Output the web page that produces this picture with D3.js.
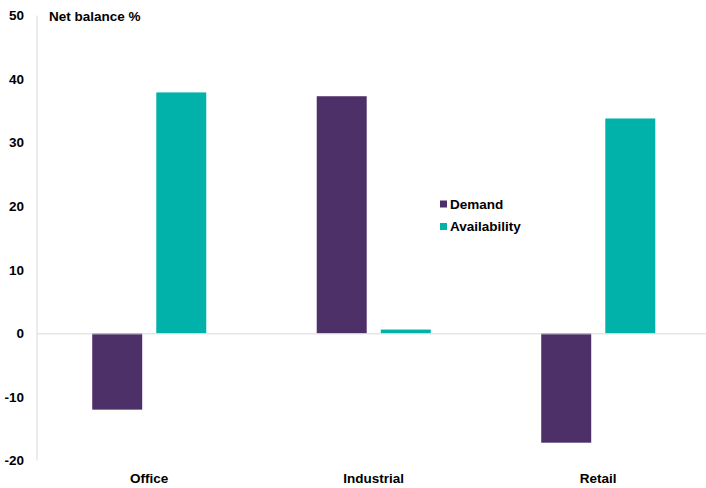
<!DOCTYPE html>
<html>
<head>
<meta charset="utf-8">
<script src="https://cdn.jsdelivr.net/npm/d3@7"></script>
<style>
  body { margin: 0; background: #fff; }
  text { font-family: "Liberation Sans", Arial, sans-serif; font-weight: bold; fill: #000; }
</style>
</head>
<body>
<div id="chart"></div>
<script>
// data
var categories = ["Office", "Industrial", "Retail"];
var seriesNames = ["Demand", "Availability"];
var demand = [-12, 37.3, -17.2];
var availability = [37.9, 0.6, 33.8];
var yTicks = [-20, -10, 0, 10, 20, 30, 40, 50];
var colors = {Demand: "#4d3068", Availability: "#00b2a9"};

// setup dimensions
var width = 706, height = 488;

var svg = d3.select("#chart").append("svg")
  .attr("width", width)
  .attr("height", height);

// scales
var y = d3.scaleLinear()
  .domain([-20, 50])
  .range([460.5, 15.5]);

var x0 = d3.scaleBand()
  .domain(categories)
  .range([37, 710.5])
  .paddingInner(0.492)
  .paddingOuter(0.246);

var x1 = d3.scaleBand()
  .domain(seriesNames)
  .range([0, x0.bandwidth()])
  .paddingInner(0.22);

// y axis line
svg.append("line")
  .attr("x1", 37).attr("x2", 37)
  .attr("y1", y(50)).attr("y2", y(-20))
  .attr("stroke", "#d9d9d9")
  .attr("stroke-width", 1);

// tick labels
svg.selectAll("text.ytick")
  .data(yTicks)
  .enter().append("text")
  .attr("class", "ytick")
  .attr("x", 24)
  .attr("y", function(d) { return y(d); })
  .attr("dy", "0.35em")
  .attr("text-anchor", "end")
  .style("font-size", "13.5px")
  .text(function(d) { return d; });

// title
svg.append("text")
  .attr("x", 49)
  .attr("y", 16)
  .attr("dy", "0.35em")
  .style("font-size", "13.5px")
  .text("Net balance %");

// bars
var rows = categories.map(function(c, i) {
  return {cat: c, values: [
    {key: "Demand", value: demand[i]},
    {key: "Availability", value: availability[i]}
  ]};
});

var groups = svg.selectAll("g.group")
  .data(rows)
  .enter().append("g")
  .attr("class", "group")
  .attr("transform", function(d) { return "translate(" + x0(d.cat) + ",0)"; });

groups.selectAll("rect")
  .data(function(d) { return d.values; })
  .enter().append("rect")
  .attr("x", function(d) { return x1(d.key); })
  .attr("width", x1.bandwidth())
  .attr("y", function(d) { return y(Math.max(0, d.value)); })
  .attr("height", function(d) { return Math.abs(y(d.value) - y(0)); })
  .attr("fill", function(d) { return colors[d.key]; });

// zero line
svg.append("line")
  .attr("x1", 37).attr("x2", width)
  .attr("y1", y(0) + 0.5).attr("y2", y(0) + 0.5)
  .attr("stroke", "#d9d9d9")
  .attr("stroke-width", 1);

// category labels
svg.selectAll("text.xlabel")
  .data(categories)
  .enter().append("text")
  .attr("class", "xlabel")
  .attr("x", function(d) { return x0(d) + x0.bandwidth() / 2; })
  .attr("y", 478)
  .attr("dy", "0.35em")
  .attr("text-anchor", "middle")
  .style("font-size", "13.5px")
  .text(function(d) { return d; });

// legend
var legend = svg.selectAll("g.legend")
  .data(seriesNames)
  .enter().append("g")
  .attr("class", "legend")
  .attr("transform", function(d, i) { return "translate(440," + (204 + i * 22.5) + ")"; });

legend.append("rect")
  .attr("x", 0).attr("y", -3.5)
  .attr("width", 7).attr("height", 7)
  .attr("fill", function(d) { return colors[d]; });

legend.append("text")
  .attr("x", 10)
  .attr("y", 0)
  .attr("dy", "0.35em")
  .style("font-size", "13.5px")
  .text(function(d) { return d; });
</script>
</body>
</html>
